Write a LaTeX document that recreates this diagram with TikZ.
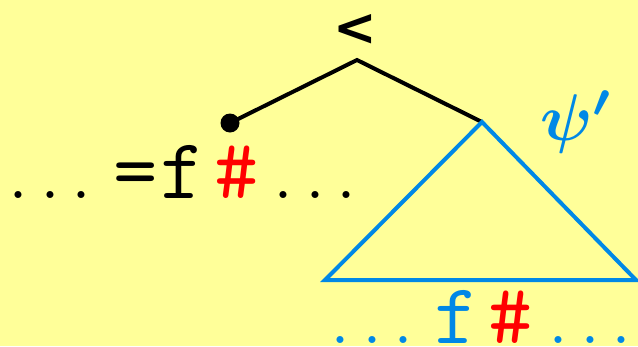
\documentclass[tikz,border=0pt]{standalone}
\usepackage{amsmath,bm}
\usepackage{fontspec}
\newfontfamily\dejab{DejaVu Sans}
\definecolor{bg}{RGB}{255,255,153}
\definecolor{tblue}{RGB}{0,136,230}
\definecolor{tred}{RGB}{255,0,0}
\begin{document}
\begin{tikzpicture}[x=1pt,y=-1pt,
  txt/.style={inner sep=0pt,anchor=base},
  big/.style={font=\ttfamily\fontsize{86}{88}\selectfont},
  dots/.style={font=\ttfamily\fontsize{62}{64}\selectfont},
  edge/.style={line width=4pt,black},
  tri/.style={line width=4pt,tblue,line join=miter}]
\fill[bg] (0,0) rectangle (638,346);
\useasboundingbox (0,0) rectangle (638,346);
% top label
\node[txt,font=\dejab\bfseries\fontsize{52}{54}\selectfont] (lt) at (355,45) {<};
\coordinate (apex) at (357,60);
\node[circle,fill=black,inner sep=0pt,minimum size=19pt] (dot) at (230,123) {};
\coordinate (ta) at (482,122);
\coordinate (tl) at (325,280);
\coordinate (tr) at (636,280);
\draw[edge] (dot.center) -- (apex) -- (ta);
\draw[tri] (ta) -- (tl) -- (tr) -- cycle;
\node[txt,text=tblue] (psi) at (577,140) {\scalebox{6.6}{$\bm{\psi'}$}};
% left string
\node[txt,dots] (l1) at (50,198) {...};
\node[txt,big] (leq) at (136,198) {=};
\node[txt,big] (lf) at (183,198) {f};
\node[txt,big,text=tred] (lh) at (237,198) {\#};
\node[txt,dots] (l2) at (315,198) {...};
% bottom string
\node[txt,dots,text=tblue] (b1) at (372,343) {...};
\node[txt,big,text=tblue] (bf) at (457,343) {f};
\node[txt,big,text=tred] (bh) at (511,343) {\#};
\node[txt,dots,text=tblue] (b2) at (590,343) {...};
\end{tikzpicture}
\end{document}
